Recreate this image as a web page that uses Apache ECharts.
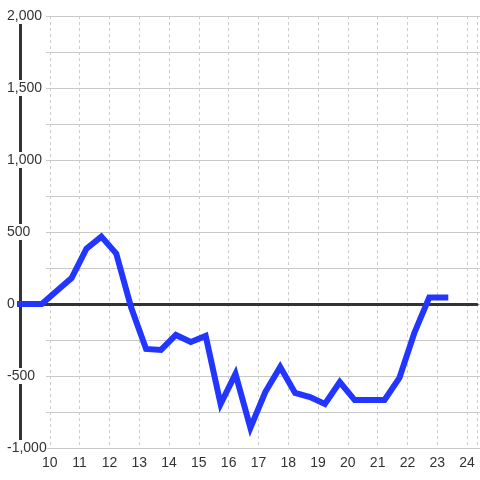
<!DOCTYPE html>
<html>
<head>
<meta charset="utf-8">
<script src="https://cdn.jsdelivr.net/npm/echarts@6/dist/echarts.min.js"></script>
<style>html,body{margin:0;padding:0;background:#fff}#c{width:480px;height:480px}</style>
</head>
<body>
<div id="c"></div>
<script>
var xValues = [9.0, 9.73, 10.23, 10.73, 11.23, 11.73, 12.23, 12.73, 13.23, 13.73, 14.23, 14.73, 15.23, 15.73, 16.23, 16.73, 17.23, 17.73, 18.23, 18.73, 19.23, 19.73, 20.23, 20.73, 21.23, 21.73, 22.23, 22.73, 23.27];
var yValues = [0, 0, 90, 180, 385, 468, 350, -25, -312, -319, -215, -264, -222, -695, -485, -860, -611, -437, -618, -646, -694, -542, -667, -667, -667, -514, -201, 45, 45];
var xTickLabels = [10, 11, 12, 13, 14, 15, 16, 17, 18, 19, 20, 21, 22, 23, 24];
var yTickLabels = [-1000, -500, 0, 500, 1000, 1500, 2000];

var seriesData = xValues.map(function (x, i) { return [x, yValues[i]]; });
var font = 'Liberation Sans, Arial, sans-serif';

var chart = echarts.init(document.getElementById('c'), null, { renderer: 'canvas' });
chart.setOption({
  animation: false,
  backgroundColor: '#fff',
  grid: [
    { left: 20, right: 0, top: 16, bottom: 32 },
    { left: 46, right: 0, top: 16, bottom: 32 }
  ],
  xAxis: [
    {
      gridIndex: 0, type: 'value', min: 9, max: 24.3333, interval: 1, position: 'bottom',
      axisLine: { show: false, onZero: false },
      axisTick: { show: false },
      axisLabel: {
        color: '#333', fontSize: 14, fontFamily: font, margin: 8,
        formatter: function (v) { return xTickLabels.indexOf(v) >= 0 ? String(v) : ''; }
      },
      splitLine: { show: true, lineStyle: { color: '#cccccc', type: [3, 3], width: 1 } }
    },
    { gridIndex: 1, type: 'value', min: 0, max: 1, show: false },
    {
      gridIndex: 0, type: 'value', min: 9, max: 24.3333, position: 'top',
      axisLine: { show: true, onZero: true, lineStyle: { color: '#333', width: 3 } },
      axisTick: { show: false }, axisLabel: { show: false }, splitLine: { show: false }
    }
  ],
  yAxis: [
    {
      gridIndex: 0, type: 'value', min: -1000, max: 2000, interval: 500,
      axisLine: { show: true, lineStyle: { color: '#333', width: 3 } },
      axisTick: { show: false },
      splitLine: { show: false },
      axisLabel: {
        align: 'left', margin: 13, color: '#333', fontSize: 14, fontFamily: font,
        backgroundColor: '#fff', padding: [1, 0, 1, 0],
        formatter: function (v) { return yTickLabels.indexOf(v) >= 0 ? v.toLocaleString('en-US') : ''; }
      }
    },
    {
      gridIndex: 1, type: 'value', min: -1000, max: 2000, interval: 250,
      axisLine: { show: false }, axisTick: { show: false }, axisLabel: { show: false },
      splitLine: { show: true, lineStyle: { color: '#c8c8c8', width: 1 } }
    }
  ],
  series: [
    {
      type: 'line', xAxisIndex: 0, yAxisIndex: 0, data: seriesData,
      symbol: 'none', clip: false, z: 5,
      lineStyle: { color: '#2236ff', width: 6, cap: 'square', join: 'miter' }
    }
  ]
});
</script>
</body>
</html>
